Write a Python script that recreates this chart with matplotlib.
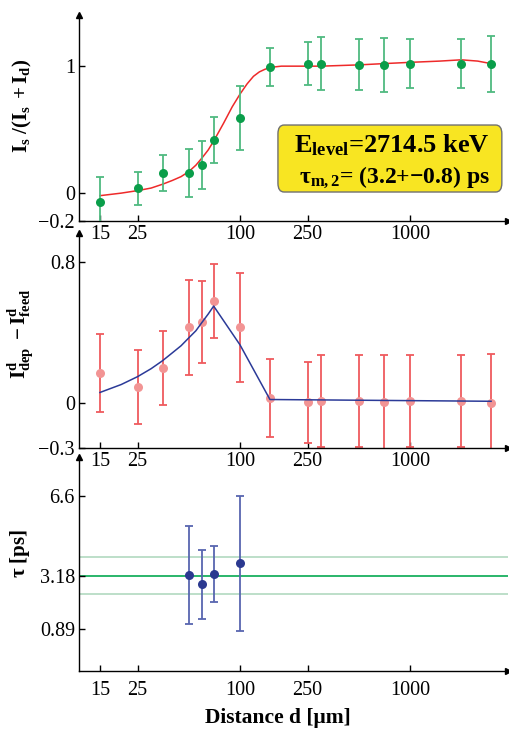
import matplotlib
matplotlib.use("Agg")
import matplotlib.pyplot as plt
from matplotlib.patches import FancyBboxPatch
from matplotlib.ticker import NullLocator

plt.rcParams['font.family'] = 'Liberation Serif'
plt.rcParams['mathtext.fontset'] = 'custom'
plt.rcParams['mathtext.rm'] = 'Liberation Serif'
plt.rcParams['mathtext.it'] = 'Liberation Serif:italic'
plt.rcParams['mathtext.bf'] = 'Liberation Serif:bold'

# distances in micrometres
distance = [15, 25, 35, 50, 60, 70, 100, 150, 250, 300, 500, 700, 1000, 2000, 3000]

# normalised shifted intensity I_s/(I_s+I_d)
ratio = [-0.07, 0.04, 0.16, 0.16, 0.22, 0.42, 0.59, 0.99, 1.02, 1.02, 1.01, 1.01, 1.02, 1.02, 1.02]
ratio_err = [0.20, 0.13, 0.14, 0.19, 0.19, 0.18, 0.25, 0.15, 0.17, 0.21, 0.20, 0.21, 0.19, 0.19, 0.22]

# fitted curve through the ratio
fit_d = [15, 20, 25, 30, 35, 40, 45, 50, 55, 60, 65, 70, 80, 90, 100, 110, 120, 130, 140, 150, 175,
         200, 300, 500, 700, 1000, 1500, 2000, 2500, 3000]
fit_y = [-0.02, 0.0, 0.02, 0.04, 0.07, 0.10, 0.13, 0.17, 0.22, 0.28, 0.34, 0.41, 0.55, 0.68, 0.78,
         0.86, 0.92, 0.955, 0.975, 0.99, 1.0, 1.0, 1.0, 1.01, 1.02, 1.03, 1.04, 1.05, 1.04, 1.02]

# derivative term I^d_dep - I^d_feed
deriv = [0.17, 0.09, 0.20, 0.43, 0.46, 0.58, 0.43, 0.03, 0.005, 0.01, 0.01, 0.005, 0.01, 0.01, 0.0]
deriv_err = [0.22, 0.21, 0.21, 0.27, 0.23, 0.21, 0.31, 0.22, 0.23, 0.26, 0.26, 0.27, 0.26, 0.26, 0.28]

deriv_fit_d = [15, 20, 25, 30, 35, 40, 45, 50, 55, 60, 65, 70, 100, 150, 3000]
deriv_fit_y = [0.06, 0.105, 0.15, 0.195, 0.24, 0.285, 0.325, 0.37, 0.41, 0.46, 0.505, 0.55, 0.33, 0.02, 0.01]

# lifetimes from the sensitive region
tau_d = [50, 60, 70, 100]
tau = [3.22, 2.81, 3.24, 3.72]
tau_err = [2.1, 1.47, 1.2, 2.9]
tau_mean = 3.18
tau_unc = 0.8

xticks = [15, 25, 100, 250, 1000]
xticklabels = ['15', '25', '100', '250', '1000']

fig = plt.figure(figsize=(5.1, 7.32), dpi=100)
ax1 = fig.add_axes([0.155, 0.698, 0.841, 0.281])
ax2 = fig.add_axes([0.155, 0.388, 0.841, 0.294])
ax3 = fig.add_axes([0.155, 0.0833, 0.841, 0.292])

for ax in (ax1, ax2, ax3):
    ax.set_xscale('log')
    ax.set_xlim(11.3, 3770)
    ax.set_xticks(xticks)
    ax.set_xticklabels(xticklabels)
    ax.xaxis.set_minor_locator(NullLocator())
    ax.spines['top'].set_visible(False)
    ax.spines['right'].set_visible(False)
    for s in ('left', 'bottom'):
        ax.spines[s].set_linewidth(1.0)
    ax.tick_params(direction='in', length=4, width=1, labelsize=14.5, pad=3)
    ax.plot(1, 0, '>k', ms=4, transform=ax.transAxes, clip_on=False)
    ax.plot(0, 1, '^k', ms=4, transform=ax.transAxes, clip_on=False)
    ax.patch.set_visible(False)
ax3.tick_params(axis='x', pad=7)

# top panel
ax1.plot(fit_d, fit_y, color='#ee2a2a', lw=1.1, zorder=2)
ax1.errorbar(distance, ratio, yerr=ratio_err, fmt='o', color='#0a9e4a', ecolor='#4fba80',
             elinewidth=1.3, capsize=3.2, capthick=1.3, ms=6.5, mec='none', zorder=3)
ax1.set_ylim(-0.22, 1.40)
ax1.set_yticks([-0.22, 0, 1])
ax1.set_yticklabels(['\u22120.2', '0', '1'])
fig.text(22 / 510, 1 - 106 / 732, r'$\mathbf{I_s\ /(I_s\ +I_d)}$', rotation=90,
         ha='center', va='center', fontsize=15)

box = FancyBboxPatch((0.545, 0.7377), 0.439, 0.0915, boxstyle='round,pad=0,rounding_size=0.012',
                     fc='#f8e522', ec='#707070', lw=1.0, transform=fig.transFigure)
fig.add_artist(box)
fig.text(392 / 510, 1 - 145 / 732, r'$\mathbf{E_{level}}$=2714.5 keV', ha='center', va='center',
         fontsize=19, fontweight='bold')
fig.text(394 / 510, 1 - 177 / 732, r'$\mathbf{\tau_{m,2}}$= (3.2+' + '\u2212' + '0.8) ps',
         ha='center', va='center', fontsize=17, fontweight='bold')

# middle panel
ax2.errorbar(distance, deriv, yerr=deriv_err, fmt='o', color='#f29494', ecolor='#ef5a5e',
             elinewidth=1.3, capsize=3.2, capthick=1.3, ms=6.5, mec='none', zorder=2)
ax2.plot(deriv_fit_d, deriv_fit_y, color='#2b3a98', lw=1.1, zorder=3)
ax2.set_ylim(-0.255, 0.966)
ax2.set_yticks([-0.255, 0, 0.8])
ax2.set_yticklabels(['\u22120.3', '0', '0.8'])
fig.text(21 / 510, 1 - 334 / 732, r'$\mathbf{I^d_{dep}\ -I^d_{feed}}$', rotation=90,
         ha='center', va='center', fontsize=15)

# bottom panel
ax3.axhline(tau_mean + tau_unc, color='#b8dcc5', lw=1.3, zorder=1)
ax3.axhline(tau_mean - tau_unc, color='#b8dcc5', lw=1.3, zorder=1)
ax3.axhline(tau_mean, color='#2ab66a', lw=1.4, zorder=1)
ax3.errorbar(tau_d, tau, yerr=tau_err, fmt='o', color='#2b3990', ecolor='#5866b0',
             elinewidth=1.3, capsize=3.2, capthick=1.3, ms=6.5, mec='none', zorder=3)
ax3.set_ylim(-0.91, 8.27)
ax3.set_yticks([0.89, 3.18, 6.6])
ax3.set_yticklabels(['0.89', '3.18', '6.6'])
fig.text(20 / 510, 1 - 553 / 732, r'$\mathbf{\tau}$ [ps]', rotation=90,
         ha='center', va='center', fontsize=15, fontweight='bold')

fig.text(278 / 510, 1 - 718 / 732, 'Distance d [\u03bcm]', ha='center', va='center',
         fontsize=15.5, fontweight='bold')

fig.savefig('out.png', dpi=100)
